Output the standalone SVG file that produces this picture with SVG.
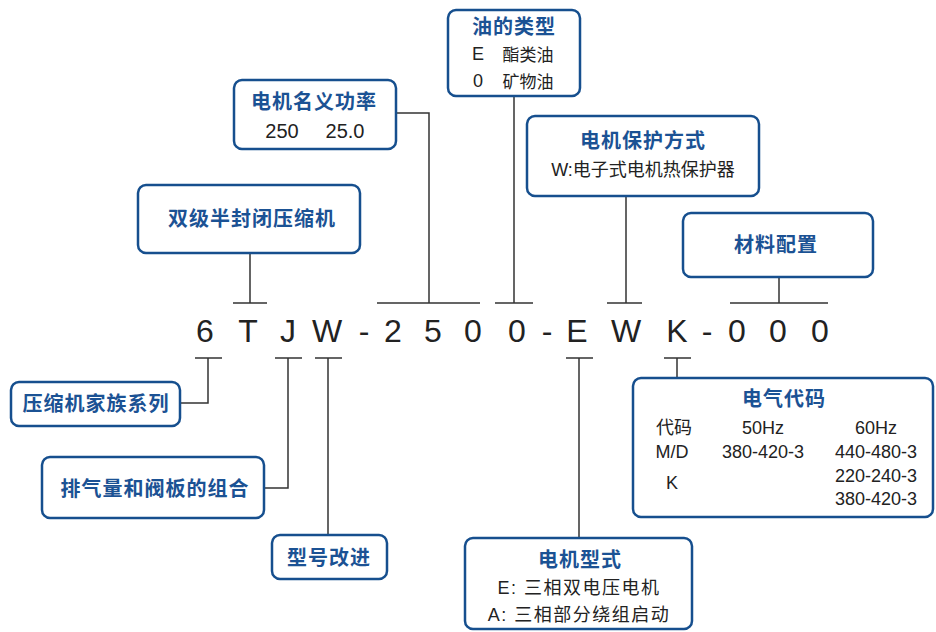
<svg xmlns="http://www.w3.org/2000/svg" width="936" height="632" viewBox="0 0 936 632">
<style>
.box{fill:#fff;stroke:#164f8e;stroke-width:2.5}
.t{font-family:"Liberation Sans","Noto Sans CJK SC",sans-serif;font-weight:bold;font-size:20px;fill:#1b5294;text-anchor:middle;letter-spacing:1px}
.s{font-family:"Liberation Sans","Noto Sans CJK SC",sans-serif;font-size:18px;fill:#222;text-anchor:middle}
.c{font-family:"Liberation Sans",sans-serif;font-size:32px;fill:#222;text-anchor:middle}
.ln{fill:none;stroke:#333;stroke-width:1.5}
</style>
<rect width="936" height="632" fill="#fff"/>
<g id="connectors" class="ln">
<path d="M233,303H267M250,253V303"/>
<path d="M377,303H480M429,303V113H396"/>
<path d="M495,303H533M514,96V303"/>
<path d="M607,303H642M626,196V303"/>
<path d="M730,303H828M779,277V303"/>
<path d="M195,358H222M208,358V403H180"/>
<path d="M275,358H302M288,358V488H264"/>
<path d="M315,358H342M328,358V535"/>
<path d="M566,358H593M579,358V538"/>
<path d="M664,358H691M677,358V378"/>
</g>
<g id="code">
<text class="c" x="205" y="342">6</text>
<text class="c" x="248" y="342">T</text>
<text class="c" x="288" y="342">J</text>
<text class="c" x="327" y="342">W</text>
<text class="c" x="364" y="342">-</text>
<text class="c" x="393" y="342">2</text>
<text class="c" x="433" y="342">5</text>
<text class="c" x="473" y="342">0</text>
<text class="c" x="517" y="342">0</text>
<text class="c" x="547" y="342">-</text>
<text class="c" x="577" y="342">E</text>
<text class="c" x="626" y="342">W</text>
<text class="c" x="677" y="342">K</text>
<text class="c" x="707" y="342">-</text>
<text class="c" x="737" y="342">0</text>
<text class="c" x="778" y="342">0</text>
<text class="c" x="820" y="342">0</text>
</g>
<g id="oil">
<rect class="box" x="448" y="10" width="132" height="86" rx="8"/>
<text class="t" x="514" y="34">油的类型</text>
<text class="s" x="478" y="60">E</text>
<text class="s" x="528" y="61" style="font-size:17px">酯类油</text>
<text class="s" x="478" y="87">0</text>
<text class="s" x="528" y="88" style="font-size:17px">矿物油</text>
</g>
<g id="power">
<rect class="box" x="234" y="80" width="162" height="69" rx="8"/>
<text class="t" x="314" y="109">电机名义功率</text>
<text class="s" x="282" y="138" style="font-size:20px">250</text>
<text class="s" x="345" y="138" style="font-size:20px">25.0</text>
</g>
<g id="protect">
<rect class="box" x="527" y="116" width="232" height="80" rx="8"/>
<text class="t" x="643" y="148">电机保护方式</text>
<text class="s" x="643" y="176">W:电子式电机热保护器</text>
</g>
<g id="series">
<rect class="box" x="138" y="185" width="222" height="68" rx="8"/>
<text class="t" x="252" y="226">双级半封闭压缩机</text>
</g>
<g id="material">
<rect class="box" x="683" y="213" width="190" height="64" rx="8"/>
<text class="t" x="776" y="252">材料配置</text>
</g>
<g id="family">
<rect class="box" x="11" y="382" width="169" height="44" rx="8"/>
<text class="t" x="96" y="411">压缩机家族系列</text>
</g>
<g id="displacement">
<rect class="box" x="42" y="457" width="222" height="61" rx="8"/>
<text class="t" x="155" y="496">排气量和阀板的组合</text>
</g>
<g id="improve">
<rect class="box" x="272" y="535" width="115" height="44" rx="8"/>
<text class="t" x="329" y="565">型号改进</text>
</g>
<g id="motortype">
<rect class="box" x="465" y="538" width="227" height="91" rx="8"/>
<text class="t" x="580" y="567">电机型式</text>
<text class="s" x="579" y="594" style="letter-spacing:1.5px">E: 三相双电压电机</text>
<text class="s" x="579" y="621" style="letter-spacing:1.5px">A: 三相部分绕组启动</text>
</g>
<g id="electrical">
<rect class="box" x="633" y="378" width="300" height="139" rx="8"/>
<text class="t" x="784" y="406">电气代码</text>
<text class="s" x="674" y="434">代码</text>
<text class="s" x="763" y="434">50Hz</text>
<text class="s" x="876" y="434">60Hz</text>
<text class="s" x="672" y="458">M/D</text>
<text class="s" x="763" y="458">380-420-3</text>
<text class="s" x="876" y="458">440-480-3</text>
<text class="s" x="876" y="482">220-240-3</text>
<text class="s" x="672" y="489">K</text>
<text class="s" x="876" y="505">380-420-3</text>
</g>
</svg>
